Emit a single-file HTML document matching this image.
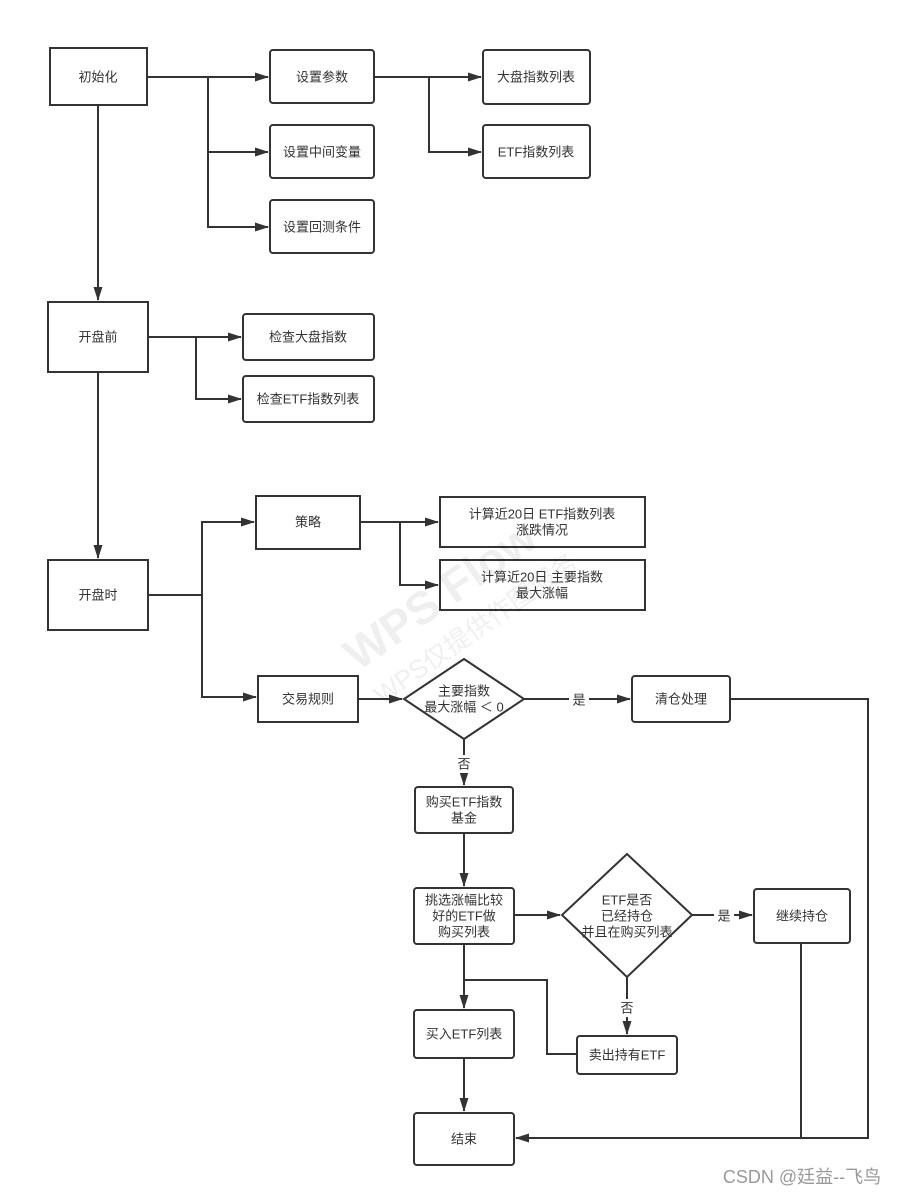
<!DOCTYPE html>
<html><head><meta charset="utf-8"><style>
html,body{margin:0;padding:0;background:#fff;}
svg{display:block;}
text{font-family:"Liberation Sans","Noto Sans CJK SC",sans-serif;font-size:13px;fill:#333;text-anchor:middle;dominant-baseline:central;}
.b{fill:#fff;stroke:#333;stroke-width:2;}
.l{fill:none;stroke:#333;stroke-width:2;}
</style></head><body>
<svg width="900" height="1196" viewBox="0 0 900 1196" xmlns="http://www.w3.org/2000/svg">
<defs><marker id="a" markerWidth="14" markerHeight="10" refX="13" refY="5" orient="auto" markerUnits="userSpaceOnUse"><path d="M0,0.5 L14,5 L0,9.5 Z" fill="#333"/></marker></defs>
<!-- connectors -->
<path class="l" d="M147,77 H268" marker-end="url(#a)"/>
<path class="l" d="M208,77 V152 H268" marker-end="url(#a)"/>
<path class="l" d="M208,152 V227 H268" marker-end="url(#a)"/>
<path class="l" d="M374,77 H481" marker-end="url(#a)"/>
<path class="l" d="M429,77 V152 H481" marker-end="url(#a)"/>
<path class="l" d="M98,105 V300" marker-end="url(#a)"/>
<path class="l" d="M148,337 H241" marker-end="url(#a)"/>
<path class="l" d="M196,337 V399 H241" marker-end="url(#a)"/>
<path class="l" d="M98,372 V558" marker-end="url(#a)"/>
<path class="l" d="M148,595 H202 V522 H254" marker-end="url(#a)"/>
<path class="l" d="M202,595 V697 H256" marker-end="url(#a)"/>
<path class="l" d="M360,522 H438" marker-end="url(#a)"/>
<path class="l" d="M400,522 V585 H438" marker-end="url(#a)"/>
<path class="l" d="M358,699 H402" marker-end="url(#a)"/>
<path class="l" d="M524,699 H630" marker-end="url(#a)"/>
<path class="l" d="M464,739 V785" marker-end="url(#a)"/>
<path class="l" d="M730,699 H868 V1138 H516" marker-end="url(#a)"/>
<path class="l" d="M464,833 V886" marker-end="url(#a)"/>
<path class="l" d="M514,915 H560" marker-end="url(#a)"/>
<path class="l" d="M692,915 H752" marker-end="url(#a)"/>
<path class="l" d="M627,977 V1034" marker-end="url(#a)"/>
<path class="l" d="M464,944 V1008" marker-end="url(#a)"/>
<path class="l" d="M464,980 H547 V1054 H577"/>
<path class="l" d="M801,943 V1138"/>
<path class="l" d="M464,1058 V1111" marker-end="url(#a)"/>
<!-- edge labels -->
<rect x="569" y="690" width="20" height="18" fill="#fff"/><text x="579" y="700">是</text>
<rect x="454" y="755" width="20" height="18" fill="#fff"/><text x="464" y="764">否</text>
<rect x="714" y="906" width="20" height="18" fill="#fff"/><text x="724" y="916">是</text>
<rect x="617" y="999" width="20" height="18" fill="#fff"/><text x="627" y="1008">否</text>
<!-- nodes -->
<rect class="b" x="50" y="48" width="97" height="57"/><text x="98" y="77">初始化</text>
<rect class="b" x="270" y="50" width="104" height="53" rx="3"/><text x="322" y="77">设置参数</text>
<rect class="b" x="270" y="125" width="104" height="53" rx="3"/><text x="322" y="152">设置中间变量</text>
<rect class="b" x="270" y="200" width="104" height="53" rx="3"/><text x="322" y="227">设置回测条件</text>
<rect class="b" x="483" y="50" width="107" height="54" rx="3"/><text x="536" y="77">大盘指数列表</text>
<rect class="b" x="483" y="125" width="107" height="53" rx="3"/><text x="536" y="152">ETF指数列表</text>
<rect class="b" x="48" y="302" width="100" height="70"/><text x="98" y="337">开盘前</text>
<rect class="b" x="243" y="314" width="131" height="46" rx="3"/><text x="308" y="337">检查大盘指数</text>
<rect class="b" x="243" y="376" width="131" height="46" rx="3"/><text x="308" y="399">检查ETF指数列表</text>
<rect class="b" x="48" y="560" width="100" height="70"/><text x="98" y="595">开盘时</text>
<rect class="b" x="256" y="496" width="104" height="53"/><text x="308" y="522">策略</text>
<rect class="b" x="440" y="497" width="205" height="50"/><text x="542" y="514">计算近20日 ETF指数列表</text><text x="542" y="530">涨跌情况</text>
<rect class="b" x="440" y="560" width="205" height="50"/><text x="542" y="577">计算近20日 主要指数</text><text x="542" y="593">最大涨幅</text>
<rect class="b" x="258" y="676" width="100" height="46"/><text x="308" y="699">交易规则</text>
<path class="b" d="M464,659 L524,699 L464,739 L404,699 Z"/><text x="464" y="691">主要指数</text><text x="464" y="707">最大涨幅 ＜ 0</text>
<rect class="b" x="632" y="676" width="98" height="46" rx="3"/><text x="681" y="699">清仓处理</text>
<rect class="b" x="415" y="787" width="98" height="46" rx="3"/><text x="464" y="802">购买ETF指数</text><text x="464" y="818">基金</text>
<rect class="b" x="414" y="888" width="100" height="56" rx="3"/><text x="464" y="900">挑选涨幅比较</text><text x="464" y="916">好的ETF做</text><text x="464" y="932">购买列表</text>
<path class="b" d="M627,854 L692,915 L627,977 L562,915 Z"/><text x="627" y="900">ETF是否</text><text x="627" y="916">已经持仓</text><text x="627" y="932">并且在购买列表</text>
<rect class="b" x="754" y="889" width="96" height="54" rx="3"/><text x="802" y="916">继续持仓</text>
<rect class="b" x="414" y="1010" width="100" height="48" rx="3"/><text x="464" y="1034">买入ETF列表</text>
<rect class="b" x="577" y="1036" width="100" height="38" rx="3"/><text x="627" y="1055">卖出持有ETF</text>
<rect class="b" x="414" y="1113" width="100" height="52" rx="3"/><text x="464" y="1139">结束</text>
<!-- watermark -->
<g transform="translate(440,595) rotate(-35)" opacity="0.06">
<text x="0" y="0" style="font-size:46px;font-weight:bold;fill:#000">WPS Flow</text>
<text x="10" y="48" style="font-size:26px;fill:#000">WPS仅提供作图服务</text>
</g>
<text x="802" y="1177" style="font-size:18px;fill:#999">CSDN @廷益--飞鸟</text>
</svg>
</body></html>
